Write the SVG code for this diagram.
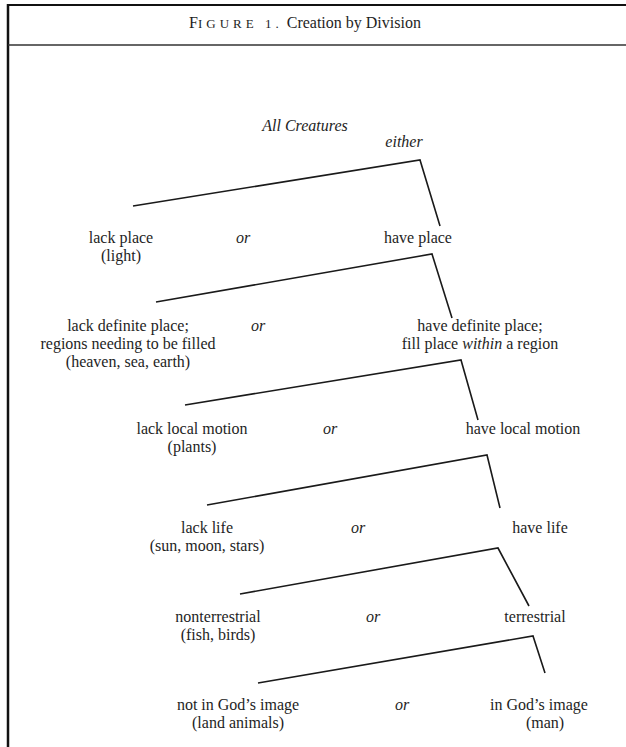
<svg xmlns="http://www.w3.org/2000/svg" width="626" height="747" viewBox="0 0 626 747">
<style>
text{font-family:"Liberation Serif","Times New Roman",serif;font-size:16px;fill:#1e1e1e;text-anchor:middle}
.i{font-style:italic}
.c line,.c polyline{stroke:#1a1a1a;stroke-width:1.6;fill:none}
</style>
<rect width="626" height="747" fill="#fff"/>
<g id="frame" stroke="#111" fill="none">
<line x1="8" y1="5" x2="626" y2="5" stroke-width="2"/>
<line x1="8" y1="4" x2="8" y2="747" stroke-width="2.5"/>
<line x1="8" y1="45" x2="626" y2="45" stroke-width="1.3" stroke="#333"/>
</g>
<g id="title"><text x="305" y="28" font-size="17.5">F<tspan font-size="13" letter-spacing="4">IGURE 1.</tspan> Creation by Division</text></g>
<g id="root"><text x="305" y="131" class="i">All Creatures</text><text x="404" y="147" class="i">either</text></g>
<g class="c" id="connectors">
<polyline points="133,206 420,160 440,226"/>
<polyline points="156,302 432,254 452,318"/>
<polyline points="185,405 461,360 478,420"/>
<polyline points="207,505 487,455 500,508"/>
<polyline points="240,594 498,548 529,606"/>
<polyline points="258,683 533,636 545,673"/>
</g>
<g id="n1a"><text x="121" y="243">lack place</text><text x="121" y="261">(light)</text></g>
<g id="or1"><text x="243" y="243" class="i">or</text></g>
<g id="n1b"><text x="418" y="243">have place</text></g>
<g id="n2a"><text x="128" y="331">lack definite place;</text><text x="128" y="349">regions needing to be filled</text><text x="128" y="367">(heaven, sea, earth)</text></g>
<g id="or2"><text x="258" y="331" class="i">or</text></g>
<g id="n2b"><text x="480" y="331">have definite place;</text><text x="480" y="349">fill place <tspan font-style="italic">within</tspan> a region</text></g>
<g id="n3a"><text x="192" y="434">lack local motion</text><text x="192" y="452">(plants)</text></g>
<g id="or3"><text x="330" y="434" class="i">or</text></g>
<g id="n3b"><text x="523" y="434">have local motion</text></g>
<g id="n4a"><text x="207" y="533">lack life</text><text x="207" y="551">(sun, moon, stars)</text></g>
<g id="or4"><text x="358" y="533" class="i">or</text></g>
<g id="n4b"><text x="540" y="533">have life</text></g>
<g id="n5a"><text x="218" y="622">nonterrestrial</text><text x="218" y="640">(fish, birds)</text></g>
<g id="or5"><text x="373" y="622" class="i">or</text></g>
<g id="n5b"><text x="535" y="622">terrestrial</text></g>
<g id="n6a"><text x="238" y="710">not in God’s image</text><text x="238" y="728">(land animals)</text></g>
<g id="or6"><text x="402" y="710" class="i">or</text></g>
<g id="n6b"><text x="539" y="710">in God’s image</text><text x="545" y="728">(man)</text></g>
</svg>
